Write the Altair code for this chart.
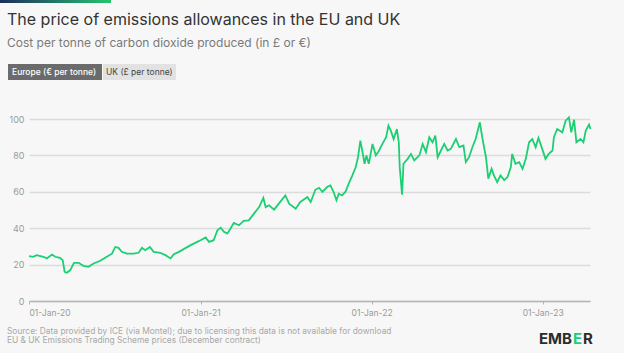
import altair as alt
import pandas as pd

# ---- data (EU ETS December contract, € per tonne) ----
dates = [
    "2020-01-01", "2020-01-10", "2020-01-17", "2020-02-01", "2020-02-08", "2020-02-19",
    "2020-02-26", "2020-03-07", "2020-03-13", "2020-03-17", "2020-03-22", "2020-03-29",
    "2020-04-06", "2020-04-16", "2020-04-26", "2020-05-07", "2020-05-18", "2020-06-01",
    "2020-06-15", "2020-06-26", "2020-07-03", "2020-07-10", "2020-07-17", "2020-07-28",
    "2020-08-11", "2020-08-22", "2020-08-29", "2020-09-05", "2020-09-15", "2020-09-23",
    "2020-10-07", "2020-10-18", "2020-10-29", "2020-11-05", "2020-11-16", "2020-11-26",
    "2020-12-11", "2020-12-25", "2021-01-01", "2021-01-12", "2021-01-19", "2021-01-29",
    "2021-02-06", "2021-02-13", "2021-02-20", "2021-02-27", "2021-03-06", "2021-03-13",
    "2021-03-24", "2021-04-03", "2021-04-14", "2021-04-25", "2021-05-06", "2021-05-15",
    "2021-05-20", "2021-05-27", "2021-06-07", "2021-06-17", "2021-07-01", "2021-07-09",
    "2021-07-23", "2021-08-02", "2021-08-17", "2021-08-24", "2021-09-03", "2021-09-11",
    "2021-09-18", "2021-09-28", "2021-10-05", "2021-10-12", "2021-10-18", "2021-10-23",
    "2021-10-30", "2021-11-06", "2021-11-13", "2021-11-21", "2021-11-28", "2021-12-03",
    "2021-12-08", "2021-12-12", "2021-12-17", "2021-12-21", "2021-12-26", "2022-01-03",
    "2022-01-10", "2022-01-17", "2022-01-24", "2022-02-01", "2022-02-06", "2022-02-11",
    "2022-02-17", "2022-02-24", "2022-02-28", "2022-03-02", "2022-03-07", "2022-03-10",
    "2022-03-19", "2022-03-26", "2022-04-02", "2022-04-13", "2022-04-20", "2022-04-27",
    "2022-05-04", "2022-05-11", "2022-05-17", "2022-05-22", "2022-05-29", "2022-06-05",
    "2022-06-12", "2022-06-19", "2022-06-30", "2022-07-07", "2022-07-16", "2022-07-21",
    "2022-07-28", "2022-08-04", "2022-08-11", "2022-08-20", "2022-08-25", "2022-09-02",
    "2022-09-07", "2022-09-14", "2022-09-19", "2022-09-26", "2022-10-03", "2022-10-11",
    "2022-10-18", "2022-10-25", "2022-10-28", "2022-11-04", "2022-11-12", "2022-11-19",
    "2022-11-26", "2022-12-03", "2022-12-10", "2022-12-17", "2022-12-23", "2022-12-31",
    "2023-01-07", "2023-01-14", "2023-01-22", "2023-01-25", "2023-02-01", "2023-02-12",
    "2023-02-19", "2023-02-26", "2023-03-03", "2023-03-09", "2023-03-14", "2023-03-23",
    "2023-03-29", "2023-04-03", "2023-04-10", "2023-04-13",
]
europe_price = [
    24.6, 24.3, 25.2, 24.3, 23.4, 25.5,
    24.3, 23.7, 22.4, 16.0, 15.5, 17.0,
    21.0, 21.0, 19.3, 18.8, 20.6, 22.1,
    24.3, 26.0, 29.7, 29.2, 27.0, 26.0,
    26.0, 26.5, 29.2, 27.9, 29.7, 27.0,
    26.5, 25.2, 23.4, 25.7, 27.0, 28.5,
    30.7, 32.5, 33.4, 34.9, 32.5, 33.4,
    38.9, 40.3, 38.0, 37.0, 39.8, 42.9,
    41.6, 44.0, 44.3, 48.0, 51.6, 56.6,
    51.6, 52.6, 50.2, 53.5, 58.0, 53.5,
    50.7, 54.4, 57.1, 54.4, 61.1, 62.2,
    59.9, 62.6, 63.5, 59.9, 55.3, 58.9,
    58.0, 59.9, 64.4, 69.0, 73.5, 79.0,
    88.1, 82.7, 75.4, 80.0, 75.4, 86.3,
    80.0, 82.7, 86.3, 90.0, 96.4, 93.6,
    89.0, 94.5, 87.2, 73.5, 58.4, 75.4,
    78.1, 80.8, 77.2, 80.0, 86.3, 81.8,
    90.0, 87.2, 90.9, 79.0, 82.7, 86.3,
    82.7, 83.6, 89.0, 84.5, 85.4, 76.3,
    79.0, 84.5, 89.0, 98.2, 90.0, 79.0,
    67.2, 72.6, 69.0, 65.3, 69.0, 66.4,
    68.1, 73.5, 80.8, 75.4, 76.3, 72.6,
    78.1, 87.2, 89.0, 84.5, 89.6, 83.6,
    78.1, 80.8, 82.7, 90.0, 94.5, 92.7,
    99.1, 100.9, 92.7, 99.6, 87.2, 89.0,
    87.2, 93.6, 96.9, 94.5,
]
y_ticks = [0, 20, 40, 60, 80, 100]
x_tick_years = [2020, 2021, 2022, 2023]

title_text = "The price of emissions allowances in the EU and UK"
subtitle_text = "Cost per tonne of carbon dioxide produced (in £ or €)"
button_labels = ["Europe (€ per tonne)", "UK (£ per tonne)"]
source_lines = [
    "Source: Data provided by ICE (via Montel); due to licensing this data is not available for download",
    "EU & UK Emissions Trading Scheme prices (December contract)",
]

df = pd.DataFrame({"date": dates, "price": europe_price})
one = pd.DataFrame({"k": [0]})

GREEN = "#1ccf72"
FONT = "Inter"

x_enc = alt.X(
    "date:T",
    scale=alt.Scale(type="utc", domain=[alt.DateTime(year=2020, month=1, date=1, utc=True),
                                        alt.DateTime(year=2023, month=4, date=12, utc=True)]),
    axis=alt.Axis(
        title=None,
        labelExpr="utcFormat(datum.value, '%d-%b-%y')",
        values=[alt.DateTime(year=y, month=1, date=1, utc=True) for y in x_tick_years],
        grid=False, domain=True, domainColor="#b5b5b5", domainWidth=1.5,
        ticks=True, tickColor="#b5b5b5", tickSize=3,
        labelColor="#9a9a9a", labelFontSize=8.5, labelFont=FONT, labelPadding=4,
    ),
)
y_enc = alt.Y(
    "price:Q",
    scale=alt.Scale(domain=[0, 100], nice=False),
    axis=alt.Axis(
        title=None, values=y_ticks, grid=True, gridColor="#dcdcdc", gridWidth=1.5,
        domain=False, ticks=False, labelColor="#9a9a9a", labelFontSize=9,
        labelFont=FONT, labelPadding=5,
    ),
)

line = alt.Chart(df).mark_line(color=GREEN, strokeWidth=1.8).encode(x=x_enc, y=y_enc)


def text(t, x, y, size, color, weight="normal", align="left"):
    return alt.Chart(one).mark_text(
        text=t, align=align, baseline="alphabetic", fontSize=size, color=color,
        font=FONT, fontWeight=weight,
    ).encode(x=alt.value(x), y=alt.value(y))


def rect(x, x2, y, y2, fill):
    return alt.Chart(one).mark_rect(fill=fill).encode(
        x=alt.value(x), x2=alt.value(x2), y=alt.value(y), y2=alt.value(y2)
    )


# offsets: plot area starts at (29, 119) in the page
OX, OY = 29, 119

grad = alt.Chart(one).mark_rect(
    fill=alt.Gradient(gradient="linear", x1=0, x2=1, y1=0, y2=0,
                      stops=[alt.GradientStop(color="#1d2c5e", offset=0),
                             alt.GradientStop(color="#27c46e", offset=1)])
).encode(x=alt.value(0 - OX), x2=alt.value(111 - OX), y=alt.value(0 - OY), y2=alt.value(3 - OY))

layers = [
    grad,
    text(title_text, 7 - OX, 25 - OY, 16, "#333333"),
    text(subtitle_text, 7 - OX, 47 - OY, 12, "#7a7a7a"),
    rect(8 - OX, 102 - OX, 64 - OY, 80 - OY, "#6b6b6b"),
    rect(103 - OX, 176 - OX, 64 - OY, 80 - OY, "#e2e2e2"),
    text(button_labels[0], 12 - OX, 75 - OY, 8.5, "#ffffff", weight=500),
    text(button_labels[1], 106 - OX, 75 - OY, 8.5, "#444444"),
    line,
    text(source_lines[0], 7 - OX, 334 - OY, 8.4, "#a8a8a8"),
    text(source_lines[1], 7 - OX, 343 - OY, 8.4, "#a8a8a8"),
    text("EMB", 539 - OX, 344 - OY, 15, "#2b2b2b", weight="bold"),
    text("E", 573 - OX, 344 - OY, 15, GREEN, weight="bold"),
    text("R", 583 - OX, 344 - OY, 15, "#2b2b2b", weight="bold"),
]

chart = alt.layer(*layers).properties(
    width=561, height=182,
    padding={"left": OX, "top": OY, "right": 34, "bottom": 52},
    autosize=alt.AutoSizeParams(type="none"),
    background="#f7f7f7",
).configure_view(stroke=None)

chart.save("out.html", embed_options={"renderer": "svg", "actions": False})
